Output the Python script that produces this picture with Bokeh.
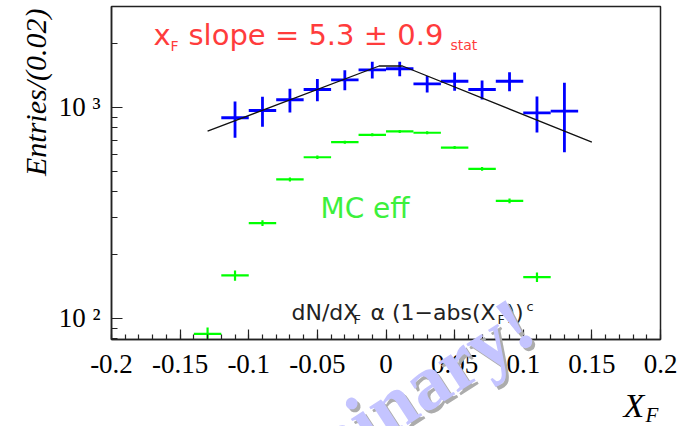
import math
import numpy as np
from bokeh.plotting import figure
from bokeh.layouts import column, row
from bokeh.models import Range1d, FixedTicker, CustomJSTickFormatter, Label, ColumnDataSource
from bokeh.embed import file_html
from bokeh.resources import INLINE

# ---------------- data ----------------
bin_centers = [-0.11, -0.09, -0.07, -0.05, -0.03, -0.01, 0.01, 0.03, 0.05, 0.07, 0.09, 0.11, 0.13]
data_counts = [894, 968, 1088, 1217, 1353, 1509, 1526, 1295, 1332, 1217, 1332, 944, 961]
data_errors = [175, 157, 140, 147, 147, 137, 120, 116, 133, 126, 137, 183, 348]

mc_centers = [-0.13, -0.11, -0.09, -0.07, -0.05, -0.03, -0.01, 0.01, 0.03, 0.05, 0.07, 0.09, 0.11]
mc_counts = [84.6, 160, 283, 456, 581, 685, 742, 770, 759, 646, 512, 361, 157]
mc_errors = [6, 9, 9, 10, 11, 11, 12, 12, 12, 11, 10, 9, 8]

bin_half_width = 0.01

fit_x = [-0.13, -0.005, 0.012, 0.15]
fit_y = [772, 1573, 1573, 685]

x_tick_values = [-0.2, -0.15, -0.1, -0.05, 0, 0.05, 0.1, 0.15, 0.2]
x_minor_values = [round(-0.2 + 0.01 * i, 2) for i in range(41)]
y_tick_values = [100, 1000]
y_minor_values = [80, 90, 200, 300, 400, 500, 600, 700, 800, 900, 2000, 3000]

X_MIN, X_MAX = -0.2, 0.2
Y_MIN, Y_MAX = 79.5, 3011

# ---------------- main figure ----------------
W, H = 696, 426
ML, MR, MT, MB = 111, 36, 6, 87
p = figure(width=W, height=H, x_range=Range1d(X_MIN, X_MAX), y_range=Range1d(Y_MIN, Y_MAX),
           y_axis_type="log", output_backend="svg", toolbar_location=None,
           min_border_left=ML, min_border_right=MR, min_border_top=MT, min_border_bottom=MB)
p.grid.visible = False
p.background_fill_color = "white"
p.border_fill_color = "white"
p.outline_line_color = "#222222"
p.outline_line_width = 1.5

FL, FT = ML, MT
FW, FH = W - ML - MR, H - MT - MB
def dx(px):
    return X_MIN + (px - FL) * (X_MAX - X_MIN) / FW
def dy(py):
    lo, hi = math.log10(Y_MIN), math.log10(Y_MAX)
    return 10 ** (hi - (py - FT) * (hi - lo) / FH)

xa = p.xaxis[0]
xa.ticker = FixedTicker(ticks=x_tick_values, minor_ticks=x_minor_values)
xa.formatter = CustomJSTickFormatter(code="""
    if (Math.abs(tick) < 1e-9) return "0";
    return String(Number(tick.toFixed(2)));
""")
ya = p.yaxis[0]
ya.ticker = FixedTicker(ticks=y_tick_values, minor_ticks=y_minor_values)
ya.formatter = CustomJSTickFormatter(code="""
    const e = Math.round(Math.log10(tick));
    const sup = {1: "\u00b9", 2: "\u00b2", 3: "\u00b3"};
    return "10 " + sup[e];
""")
for ax in (xa, ya):
    ax.axis_line_color = "#222222"
    ax.axis_line_width = 1.5
    ax.major_tick_line_color = "#222222"
    ax.minor_tick_line_color = "#222222"
    ax.major_tick_line_width = 1.2
    ax.minor_tick_line_width = 1.2
    ax.major_tick_out = 0
    ax.minor_tick_out = 0
    ax.major_label_text_font = "Liberation Serif"
    ax.major_label_text_font_size = "27px"
    ax.major_label_text_color = "black"
xa.major_tick_in = 10
xa.minor_tick_in = 5
ya.major_tick_in = 11
ya.minor_tick_in = 6
xa.major_label_standoff = 15
ya.major_label_standoff = 11

# ---------------- marks ----------------
bc = np.array(bin_centers); dc = np.array(data_counts, float); de = np.array(data_errors, float)
mc = np.array(mc_centers); mcc = np.array(mc_counts, float); mce = np.array(mc_errors, float)

mc_src = ColumnDataSource(dict(x=mc, y=mcc, xl=mc - bin_half_width, xr=mc + bin_half_width,
                               yl=mcc - mce, yh=mcc + mce))
p.segment(x0="xl", x1="xr", y0="y", y1="y", source=mc_src, line_color="#00ff00", line_width=2.2)
p.segment(x0="x", x1="x", y0="yl", y1="yh", source=mc_src, line_color="#00ff00", line_width=2.2)

d_src = ColumnDataSource(dict(x=bc, y=dc, xl=bc - bin_half_width, xr=bc + bin_half_width,
                              yl=dc - de, yh=dc + de))
p.segment(x0="xl", x1="xr", y0="y", y1="y", source=d_src, line_color="#0000ff", line_width=2.8)
p.segment(x0="x", x1="x", y0="yl", y1="yh", source=d_src, line_color="#0000ff", line_width=2.8)

p.line(fit_x, fit_y, line_color="#111111", line_width=1.3)

# ---------------- texts ----------------
SANS = "DejaVu Sans"
SERIF = "Liberation Serif"
BASE_SHIFT = 0.36   # label anchor sits this many em above the wanted baseline

def lab(text, px, py, size, color, font=SANS, style="normal", align="left", angle=0.0,
        fig=None, page=False, **kw):
    """px, py: wanted baseline point of the text in picture pixels."""
    ux, uy = -math.sin(angle), -math.cos(angle)
    ax_, ay_ = px + ux * BASE_SHIFT * size, py + uy * BASE_SHIFT * size
    fig = fig or p
    xx, yy = (ax_, ay_) if page else (dx(ax_), dy(ay_))
    l = Label(x=xx, y=yy, text=text, text_font=font, text_font_size=f"{size}px",
              text_color=color, text_font_style=style, text_align=align,
              text_baseline="alphabetic", angle=angle, **kw)
    fig.add_layout(l)
    return l

red = "#ff3c3c"
lab("x", 153, 45, 29, red)
lab("F", 170, 51, 14, red)
lab("slope = 5.3 \u00b1 0.9", 188, 45, 29, red)
lab("stat", 450, 50, 14, red)

lab("MC eff", 320, 218, 28, "#3cf03c")

dark = "#222222"
lab("dN/dX", 291, 320, 22, dark)
lab("F", 353, 324, 13, dark)
lab("\u03b1 (1\u2212abs(X", 370, 320, 22, dark)
lab("F", 497, 324, 13, dark)
lab("))", 506, 320, 22, dark)
lab("c", 526, 311, 13, dark)

# ---------------- transparent overlay for texts outside the frame ----------------
ov = figure(width=W, height=H, x_range=Range1d(0, W), y_range=Range1d(H, 0),
            x_axis_type=None, y_axis_type=None, output_backend="svg", toolbar_location=None,
            min_border=0)
ov.outline_line_color = None
ov.background_fill_color = None
ov.border_fill_color = None

lab("Entries/(0.02)", 46, 8, 30, "black", font=SERIF, style="italic", align="right",
    angle=math.pi / 2, fig=ov, page=True)
lab("X", 623, 417, 34, "black", font=SERIF, style="italic", fig=ov, page=True)
lab("F", 645, 422, 21, "black", font=SERIF, style="italic", fig=ov, page=True)

wm_angle = math.radians(33)
lab("Preliminary!", 543, 343, 78, "#acacac", font=SERIF, style="bold", align="right",
    angle=wm_angle, fig=ov, page=True)
lab("Preliminary!", 540, 340, 78, "#c4c4ff", font=SERIF, style="bold", align="right",
    angle=wm_angle, fig=ov, page=True)

layout = column(p, row(ov, margin=(-H, 0, 0, 0), spacing=0), spacing=0)
open("out.html", "w").write(file_html(layout, INLINE))
